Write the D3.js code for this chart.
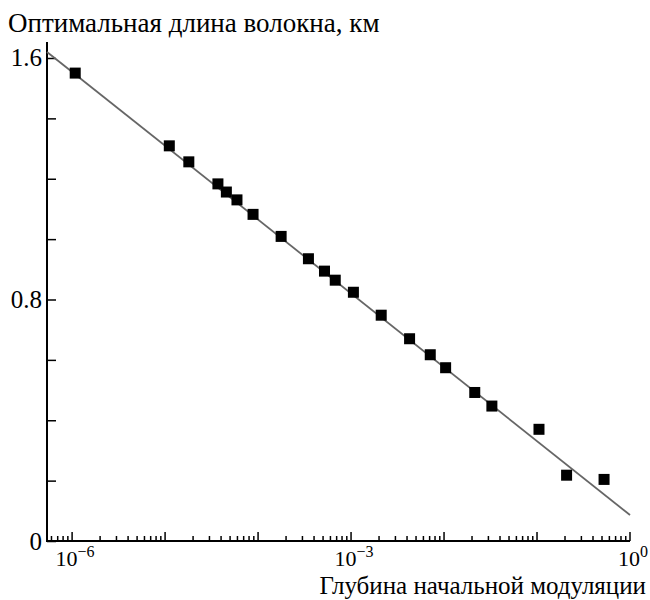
<!DOCTYPE html>
<html>
<head>
<meta charset="utf-8">
<script src="https://cdn.jsdelivr.net/npm/d3@7"></script>
<style>
  body { margin: 0; background: #fff; }
  svg text { font-family: "Liberation Serif", "Times New Roman", Tinos, "DejaVu Serif", "Noto Serif", serif !important; fill: #000; }
</style>
</head>
<body>
<div id="my_dataviz"></div>
<script>
// modulation depth (x) and optimal fibre length, km (y)
var depth = [1.08e-6, 1.11e-5, 1.80e-5, 3.70e-5, 4.56e-5, 5.93e-5, 8.83e-5, 1.77e-4,
             3.48e-4, 5.18e-4, 6.76e-4, 1.06e-3, 2.11e-3, 4.26e-3, 7.11e-3, 1.04e-2,
             2.14e-2, 3.27e-2, 0.105, 0.208, 0.526];
var length = [1.550, 1.309, 1.256, 1.183, 1.156, 1.130, 1.082, 1.009,
              0.935, 0.894, 0.864, 0.824, 0.748, 0.670, 0.617, 0.574,
              0.492, 0.447, 0.370, 0.218, 0.204];
// fitted line end points
var fitX = [5.37e-7, 1];
var fitY = [1.62, 0.086];
var yTicks = [0, 0.2, 0.4, 0.6, 0.8, 1.0, 1.2, 1.4, 1.6];
var yLabels = {"0": "0", "0.8": "0.8", "1.6": "1.6"};
var xLabelExp = ["−6", "−3", "0"];
var xLabelVal = [1e-6, 1e-3, 1];

var margin = {top: 42, right: 20, bottom: 59, left: 47},
    width = 650 - margin.left - margin.right,
    height = 600 - margin.top - margin.bottom;

var svg = d3.select("#my_dataviz")
  .append("svg")
    .attr("width", 650)
    .attr("height", 600)
  .append("g")
    .attr("transform", "translate(" + margin.left + "," + margin.top + ")");

var x = d3.scaleLog()
  .domain([5.37e-7, 1])
  .range([0, width]);

var y = d3.scaleLinear()
  .domain([0, 1.653])
  .range([height, 0]);

// X axis: ticks inside, major at decades
var isDecade = function(v) { return Math.abs(Math.log10(v) - Math.round(Math.log10(v))) < 1e-9; };
var xg = svg.append("g")
  .attr("transform", "translate(0," + height + ")");
xg.append("line")
  .attr("x1", 0).attr("x2", width)
  .attr("stroke", "#000").attr("stroke-width", 2);
xg.selectAll("line.tick")
  .data(x.ticks().filter(function(v) { return v >= x.domain()[0]; }))
  .enter()
  .append("line")
    .attr("class", "tick")
    .attr("x1", function(d) { return x(d); })
    .attr("x2", function(d) { return x(d); })
    .attr("y1", 0)
    .attr("y2", function(d) { return isDecade(d) ? -9 : -5; })
    .attr("stroke", "#000")
    .attr("stroke-width", 1.5);

var xl = xg.selectAll("text.lab")
  .data(xLabelVal)
  .enter()
  .append("text")
    .attr("class", "lab")
    .attr("x", function(d) { return x(d) + 3; })
    .attr("y", 25)
    .attr("text-anchor", "middle")
    .style("font-size", "22px");
xl.append("tspan").text("10");
xl.append("tspan")
  .attr("dy", -9)
  .style("font-size", "16px")
  .text(function(d, i) { return xLabelExp[i]; });

// Y axis
var yAxis = d3.axisLeft(y)
  .tickValues(yTicks)
  .tickSizeInner(-9)
  .tickSizeOuter(0)
  .tickPadding(5)
  .tickFormat(function(d) { var k = String(+d.toFixed(1)); return yLabels[k] || ""; });
var yg = svg.append("g").call(yAxis);
yg.select(".domain")
  .attr("d", "M0," + (height + 1) + "V0")
  .attr("stroke", "#000").attr("stroke-width", 2);
yg.selectAll(".tick line").attr("stroke", "#000").attr("stroke-width", 1.5);
yg.selectAll(".tick text")
  .style("font-size", "25px");

// fitted line
svg.append("path")
  .datum(fitX.map(function(v, i) { return [v, fitY[i]]; }))
  .attr("fill", "none")
  .attr("stroke", "#666")
  .attr("stroke-width", 1.8)
  .attr("d", d3.line()
    .x(function(d) { return x(d[0]); })
    .y(function(d) { return y(d[1]); }));

// points
var s = 11;
svg.append("g")
  .selectAll("rect")
  .data(depth)
  .enter()
  .append("rect")
    .attr("x", function(d) { return x(d) - s / 2; })
    .attr("y", function(d, i) { return y(length[i]) - s / 2; })
    .attr("width", s)
    .attr("height", s)
    .attr("fill", "#000");

// titles
d3.select("svg").append("text")
  .attr("x", 8)
  .attr("y", 32)
  .style("font-size", "27px")
  .text("Оптимальная длина волокна, км");

d3.select("svg").append("text")
  .attr("x", 646)
  .attr("y", 594)
  .attr("text-anchor", "end")
  .style("font-size", "25px")
  .text("Глубина начальной модуляции");
</script>
</body>
</html>
